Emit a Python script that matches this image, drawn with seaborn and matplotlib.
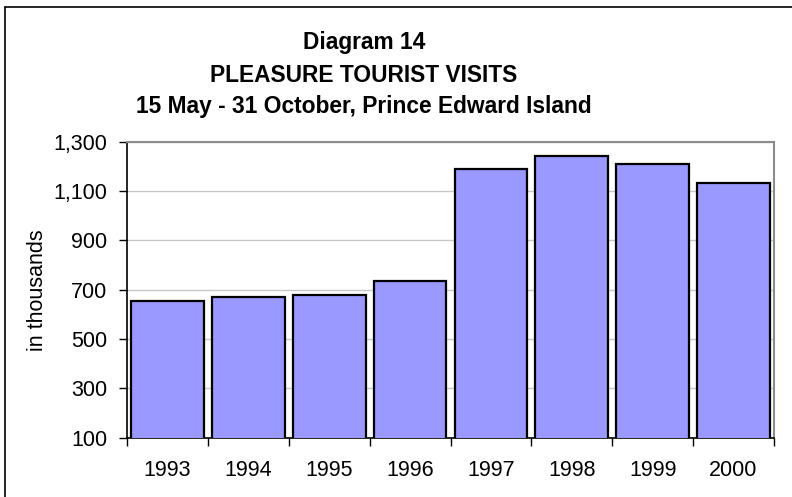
import numpy as np
import pandas as pd
import matplotlib
matplotlib.use("Agg")
import matplotlib.pyplot as plt
from matplotlib.lines import Line2D
from matplotlib.ticker import FuncFormatter
import seaborn as sns

years = ["1993", "1994", "1995", "1996", "1997", "1998", "1999", "2000"]
visits = [654, 671, 678, 736, 1190, 1242, 1208, 1132]
title_lines = ["Diagram 14", "PLEASURE TOURIST VISITS", "15 May - 31 October, Prince Edward Island"]
y_ticks = [100, 300, 500, 700, 900, 1100, 1300]

df = pd.DataFrame({"year": years, "visits": visits})

sns.set_style("white", {"text.color": "black", "axes.labelcolor": "black",
                        "xtick.color": "black", "ytick.color": "black"})
plt.rcParams["font.family"] = ["Liberation Sans", "DejaVu Sans"]

fig = plt.figure(figsize=(7.92, 4.97), dpi=100)
ax = fig.add_axes([127 / 792, 1 - 437.7 / 497, (774 - 127) / 792, (437.7 - 141.7) / 497])

sns.barplot(data=df, x="year", y="visits", color="#9999ff", saturation=1,
            edgecolor="black", linewidth=1.6, width=0.9, ax=ax, zorder=3)

ax.set_ylim(100, 1300)
ax.set_xlim(-0.5, len(years) - 0.5)
ax.set_yticks(y_ticks)
ax.yaxis.set_major_formatter(FuncFormatter(lambda v, p: f"{int(v):,}"))
ax.grid(axis="y", color="#c8c8c8", linewidth=1, zorder=0)
ax.set_axisbelow(True)

ax.set_xlabel("")
ax.set_ylabel("in thousands", fontsize=15.5, labelpad=4)

ax.tick_params(axis="y", direction="out", length=6, width=1, color="black",
               labelsize=15.5, pad=8, left=True)
ax.tick_params(axis="x", which="major", length=0, labelsize=15.5, pad=16)
ax.set_xticks(np.arange(-0.5, len(years)), minor=True)
ax.tick_params(axis="x", which="minor", direction="out", length=6, width=1,
               color="black", bottom=True)

for side in ["top", "right"]:
    ax.spines[side].set_color("#8c8c8c")
    ax.spines[side].set_linewidth(1.5)
for side in ["left", "bottom"]:
    ax.spines[side].set_color("black")
    ax.spines[side].set_linewidth(1.2)

for i, line in enumerate(title_lines):
    fig.text(364 / 792, 1 - (43 + 32 * i) / 497, line, ha="center", va="center",
             fontsize=16.4, fontweight="bold", color="black")

# chart area border (top and left edges visible)
fig.add_artist(Line2D([5 / 792, 5 / 792], [0, 1 - 7 / 497], color="black", linewidth=1.2))
fig.add_artist(Line2D([5 / 792, 1], [1 - 7 / 497, 1 - 7 / 497], color="black", linewidth=1.2))

fig.savefig("out.png", dpi=100)
